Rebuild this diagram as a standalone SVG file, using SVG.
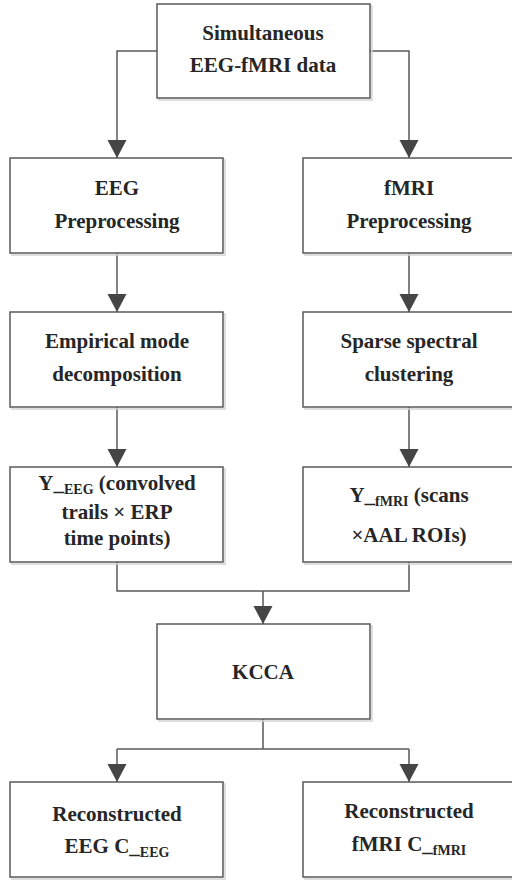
<svg xmlns="http://www.w3.org/2000/svg" width="512" height="881" viewBox="0 0 512 881">
<defs>
<style>
.box{fill:#fff;stroke:#595959;stroke-width:1.5}
.sh{fill:none;stroke:#d4d4d4;stroke-width:1.5}
.t{font-family:'Liberation Serif','DejaVu Serif',serif;font-weight:bold;font-size:21px;fill:#262626;text-anchor:middle}
.sub{font-size:14px}
.ln{fill:none;stroke:#595959;stroke-width:1.5}
</style>
<marker id="ah" markerUnits="userSpaceOnUse" markerWidth="20" markerHeight="20" viewBox="0 0 20 20" refX="18" refY="10" orient="auto">
<path d="M0,0.5 L18,10 L0,19.5 Z" fill="#454545"/>
</marker>
</defs>
<rect width="512" height="881" fill="#fff"/>
<g id="connectors">
<path class="ln" d="M157,51 H117 V158" marker-end="url(#ah)"/>
<path class="ln" d="M370,51 H409 V158" marker-end="url(#ah)"/>
<path class="ln" d="M117,253 V312" marker-end="url(#ah)"/>
<path class="ln" d="M409,253 V312" marker-end="url(#ah)"/>
<path class="ln" d="M117,407 V467" marker-end="url(#ah)"/>
<path class="ln" d="M409,407 V467" marker-end="url(#ah)"/>
<path class="ln" d="M117,562 V591 H409 V562"/>
<path class="ln" d="M263,591 V624" marker-end="url(#ah)"/>
<path class="ln" d="M263,719 V749"/>
<path class="ln" d="M117,749 H409"/>
<path class="ln" d="M117,749 V782" marker-end="url(#ah)"/>
<path class="ln" d="M409,749 V782" marker-end="url(#ah)"/>
</g>
<g id="n_data">
<rect class="sh" x="159" y="6" width="213" height="94"/>
<rect class="box" x="157" y="4" width="213" height="94"/>
<text class="t" x="263" y="40">Simultaneous</text>
<text class="t" x="263" y="72">EEG-fMRI data</text>
</g>
<g id="n_eegpre">
<rect class="sh" x="12" y="160" width="213" height="95"/>
<rect class="box" x="10" y="158" width="213" height="95"/>
<text class="t" x="117" y="195">EEG</text>
<text class="t" x="117" y="228">Preprocessing</text>
</g>
<g id="n_fmripre">
<rect class="sh" x="305" y="160" width="213" height="95"/>
<rect class="box" x="303" y="158" width="213" height="95"/>
<text class="t" x="409" y="195">fMRI</text>
<text class="t" x="409" y="228">Preprocessing</text>
</g>
<g id="n_emd">
<rect class="sh" x="12" y="314" width="213" height="95"/>
<rect class="box" x="10" y="312" width="213" height="95"/>
<text class="t" x="117" y="348">Empirical mode</text>
<text class="t" x="117" y="381">decomposition</text>
</g>
<g id="n_ssc">
<rect class="sh" x="305" y="314" width="213" height="95"/>
<rect class="box" x="303" y="312" width="213" height="95"/>
<text class="t" x="409" y="348">Sparse spectral</text>
<text class="t" x="409" y="381">clustering</text>
</g>
<g id="n_yeeg">
<rect class="sh" x="12" y="469" width="213" height="95"/>
<rect class="box" x="10" y="467" width="213" height="95"/>
<text class="t" x="117" y="490">Y_<tspan class="sub" dy="4">EEG</tspan><tspan dy="-4"> (convolved</tspan></text>
<text class="t" x="117" y="519">trails × ERP</text>
<text class="t" x="117" y="545">time points)</text>
</g>
<g id="n_yfmri">
<rect class="sh" x="305" y="469" width="213" height="95"/>
<rect class="box" x="303" y="467" width="213" height="95"/>
<text class="t" x="409" y="502">Y_<tspan class="sub" dy="4">fMRI</tspan><tspan dy="-4"> (scans</tspan></text>
<text class="t" x="409" y="542">×AAL ROIs)</text>
</g>
<g id="n_kcca">
<rect class="sh" x="159" y="626" width="213" height="95"/>
<rect class="box" x="157" y="624" width="213" height="95"/>
<text class="t" x="263" y="679">KCCA</text>
</g>
<g id="n_receeg">
<rect class="sh" x="12" y="784" width="213" height="95"/>
<rect class="box" x="10" y="782" width="213" height="95"/>
<text class="t" x="117" y="821">Reconstructed</text>
<text class="t" x="117" y="853">EEG C_<tspan class="sub" dy="4">EEG</tspan></text>
</g>
<g id="n_recfmri">
<rect class="sh" x="305" y="784" width="213" height="95"/>
<rect class="box" x="303" y="782" width="213" height="95"/>
<text class="t" x="409" y="818">Reconstructed</text>
<text class="t" x="409" y="851">fMRI C_<tspan class="sub" dy="4">fMRI</tspan></text>
</g>
</svg>
